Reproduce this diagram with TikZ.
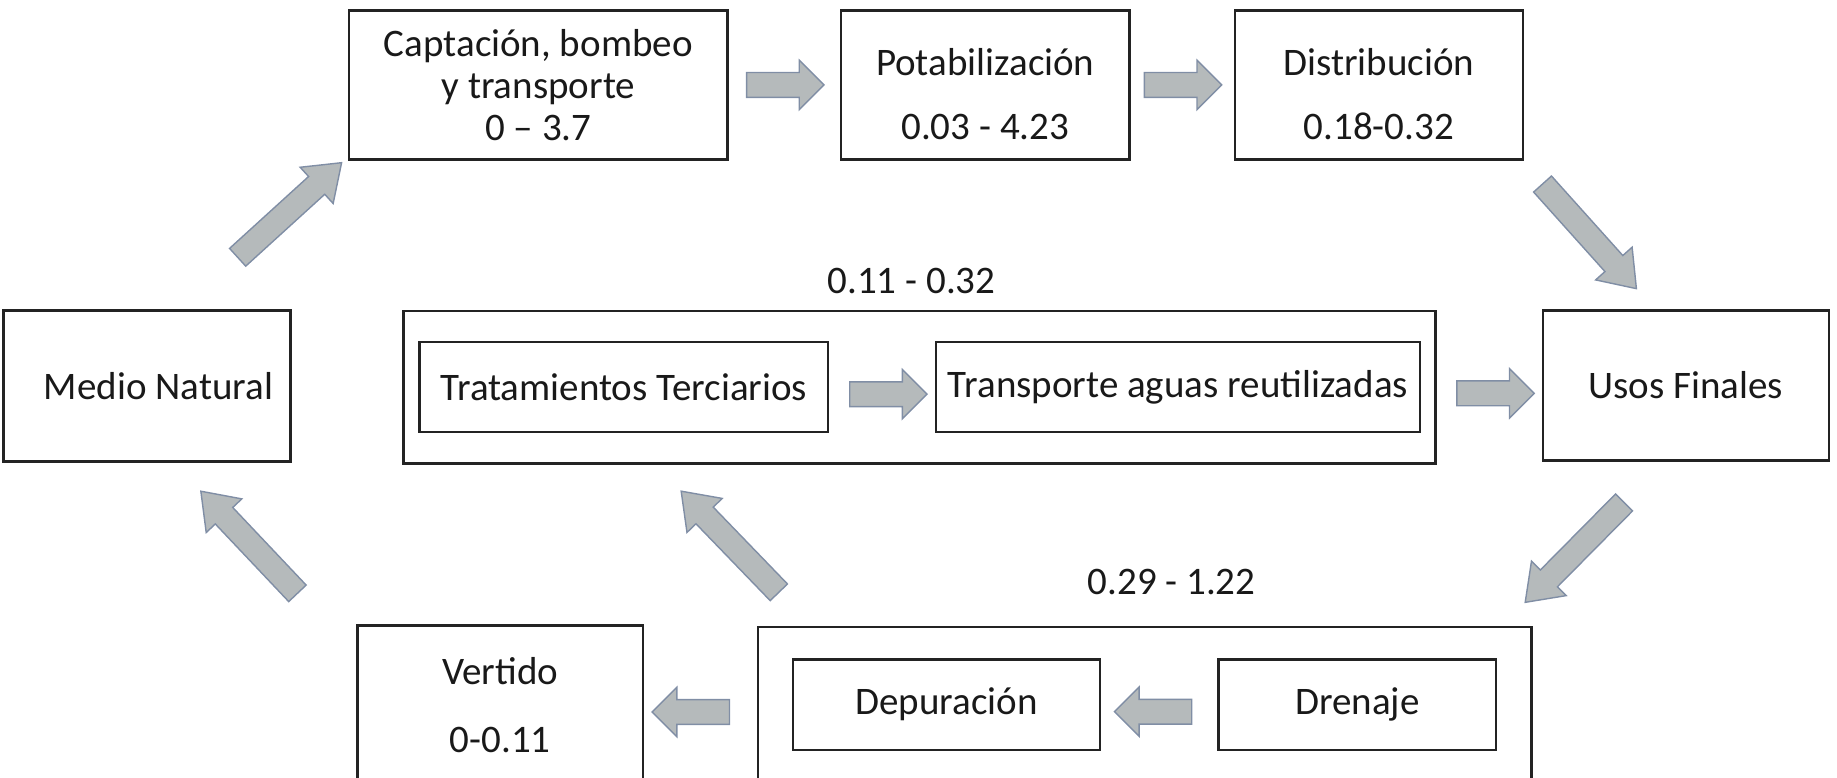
\documentclass[tikz,border=0pt]{standalone}
\usepackage{fontspec}
\setmainfont{Carlito}
\usepackage{tikz}
\usetikzlibrary{positioning,calc,fit,shapes.arrows}
\definecolor{arrowfill}{RGB}{181,186,187}
\definecolor{arrowline}{RGB}{128,142,165}
\definecolor{boxline}{RGB}{35,35,35}
\def\PX{0.011716cm}
\def\TopGapA{1.113cm}
\def\TopGapB{1.031cm}
\def\MidGap{1.054cm}
\def\LowGap{1.160cm}
\def\BoxHeight{1.488cm}
\def\InHeight{0.902cm}

\begin{document}
\begin{tikzpicture}[x=\PX,y=\PX,
    every node/.style={font=\fontsize{11.1}{13.3}\selectfont, text=black!90},
    stage/.style={draw=boxline, line width=0.7pt, inner sep=0pt, align=center},
    group/.style={draw=boxline, line width=0.7pt},
    flowarrow/.style={single arrow, draw=arrowline, fill=arrowfill, line width=0.4pt,
        inner xsep=0pt, inner ysep=0.117cm, minimum height=0.773cm,
        single arrow head extend=0.123cm},
    diagarrow/.style={flowarrow, minimum height=1.406cm, inner ysep=0.113cm,
        single arrow head extend=0.125cm, single arrow tip angle=72}]
    \clip (0,0) rectangle (1568,664);
    % upper row
    \node[stage, minimum width=3.784cm, minimum height=\BoxHeight] (capt) at (459.5,591.5)
        {Captación, bombeo\\[-1.3pt]y transporte\\[-1.3pt]0 – 3.7};
    \node[stage, minimum width=2.882cm, minimum height=\BoxHeight, right=\TopGapA of capt] (potab)
        {\rule{0pt}{13pt}Potabilización\\[5pt]0.03 - 4.23};
    \node[stage, minimum width=2.882cm, minimum height=\BoxHeight, right=\TopGapB of potab] (distrib)
        {\rule{0pt}{13pt}Distribución\\[5pt]0.18-0.32};
    % middle row
    \node[stage, minimum width=2.870cm, minimum height=1.511cm] (medio) at (125.5,334.5)
        {\hspace*{0.23cm}Medio Natural};
    \node[stage, minimum width=2.859cm, minimum height=1.500cm] (usos) at (1439,335) {Usos Finales};
    \node[stage, minimum width=4.089cm, minimum height=\InHeight] (trat) at (532.5,333.5) {Tratamientos Terciarios};
    \node[stage, minimum width=4.839cm, minimum height=\InHeight, right=\MidGap of trat] (transp)
        {Transporte aguas reutilizadas};
    \node[group, fit=(trat)(transp), inner xsep=0.146cm, inner ysep=0.299cm] (reuse) {};
    \node (reuselbl) at (778,424) {0.11 - 0.32};
    % lower row
    \node[stage, minimum width=3.070cm, minimum height=\InHeight] (depur) at (808,62.5) {Depuración};
    \node[stage, minimum width=2.777cm, minimum height=\InHeight, right=\LowGap of depur] (dren) {Drenaje};
    \node[group, fit=(depur)(dren), inner xsep=0.340cm, inner ysep=0.316cm] (sanea) {};
    \node (saneabl) at (1000,167) {0.29 - 1.22};
    \node[stage, minimum width=2.859cm, minimum height=1.593cm] (vertido) at (427,62)
        {Vertido\\[6pt]0-0.11};
    % straight arrows
    \node[flowarrow, xshift=-1.5pt] (a1) at ($(capt.east)!0.5!(potab.west)$) {};
    \node[flowarrow, xshift=-1.5pt] (a2) at ($(potab.east)!0.5!(distrib.west)$) {};
    \node[flowarrow, yshift=-2pt] (a3) at ($(trat.east)!0.5!(transp.west)$) {};
    \node[flowarrow, yshift=-2pt] (a4) at ($(reuse.east)!0.5!(usos.west)$) {};
    \node[flowarrow, rotate=180, yshift=2pt] (a5) at ($(dren.west)!0.5!(depur.east)$) {};
    \node[flowarrow, rotate=180, yshift=2pt, xshift=1pt] (a6) at ($(sanea.west)!0.5!(vertido.east)$) {};
    % diagonal arrows
    \node[diagarrow, rotate=42.3] (d1) at (242,480) {};
    \node[diagarrow, rotate=-48.1] (d2) at (1352,467.5) {};
    \node[diagarrow, rotate=-134.7] (d3) at (1349,197.5) {};
    \node[diagarrow, rotate=134] (d4) at (628,196.5) {};
    \node[diagarrow, rotate=133.4] (d5) at (217.5,196) {};
\end{tikzpicture}
\end{document}
